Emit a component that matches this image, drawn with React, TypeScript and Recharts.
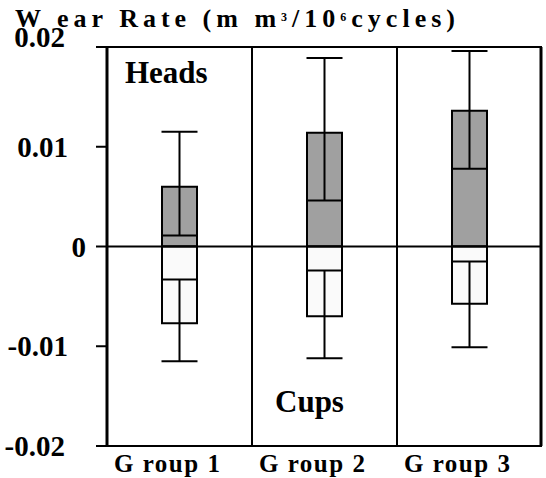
import React from 'react';
import { BarChart, Bar, XAxis, YAxis, ErrorBar, ReferenceLine, CartesianGrid } from 'recharts';

const groups = ['Group 1', 'Group 2', 'Group 3'];
const groupLabels = ['G roup 1', 'G roup 2', 'G roup 3'];
const headMeans = [0.006, 0.0114, 0.0136];
const headLow = [0.0011, 0.0046, 0.0078];
const headHigh = [0.0115, 0.0189, 0.0196];
const cupMeans = [-0.0077, -0.007, -0.00575];
const cupHigh = [-0.0033, -0.0024, -0.0015];
const cupLow = [-0.0115, -0.0112, -0.0101];
const yTicks = [-0.02, -0.01, 0, 0.01, 0.02];
const yTickLabels = ['-0.02', '-0.01', '0', '0.01', '0.02'];

const data = groups.map((g, i) => ({
  group: g,
  heads: headMeans[i],
  headsErr: [headMeans[i] - headLow[i], headHigh[i] - headMeans[i]],
  cups: cupMeans[i],
  cupsErr: [cupMeans[i] - cupLow[i], cupHigh[i] - cupMeans[i]],
}));

const FONT = "'Liberation Serif', 'Times New Roman', serif";

const YTick = (props: any) => {
  const { y, payload } = props;
  const v = payload.value;
  const idx = yTicks.indexOf(v);
  const label = idx >= 0 ? yTickLabels[idx] : String(v);
  let x = 68;
  let dy = 10;
  if (v === 0) x = 86;
  if (Math.abs(v) === 0.02) x = 65;
  if (v === 0.02) dy = 0;
  return (
    <text x={x} y={y} dy={dy} textAnchor="end" fontFamily={FONT} fontWeight="bold" fontSize={29} fill="#000">
      {label}
    </text>
  );
};

const XTick = (props: any) => {
  const { x, payload, index } = props;
  const half = 145 / 2;
  return (
    <text x={x - half + 7} y={472} textAnchor="start" fontFamily={FONT} fontWeight="bold" fontSize={25} letterSpacing={1.5} fill="#000">
      {groupLabels[index] ?? payload.value}
    </text>
  );
};

const dividers = ({ offset }: any) => [
  offset.left + offset.width / 3,
  offset.left + (2 * offset.width) / 3,
];
const rightEdge = ({ offset }: any) => [offset.left + offset.width - 1];

export default function App() {
  return (
    <div style={{ position: 'absolute', left: 0, top: 0, width: 546, height: 478, background: '#fff' }}>
      <BarChart
        width={546}
        height={478}
        data={data}
        stackOffset="sign"
        margin={{ top: 47, right: 4, bottom: 2, left: 0 }}
      >
        <CartesianGrid horizontal={false} verticalCoordinatesGenerator={dividers} stroke="#000" strokeWidth={2} strokeDasharray="" />
        <CartesianGrid horizontal={false} verticalCoordinatesGenerator={rightEdge} stroke="#000" strokeWidth={3} strokeDasharray="" />
        <XAxis
          dataKey="group"
          height={30}
          axisLine={{ stroke: '#000', strokeWidth: 2 }}
          tickLine={false}
          tick={<XTick />}
          interval={0}
        />
        <YAxis
          width={107}
          domain={[-0.02, 0.02]}
          ticks={yTicks}
          allowDataOverflow
          axisLine={{ stroke: '#000', strokeWidth: 3 }}
          tickLine={{ stroke: '#000', strokeWidth: 2 }}
          tickSize={11}
          tick={<YTick />}
          interval={0}
        />
        <ReferenceLine y={0.02} stroke="#000" strokeWidth={2} />
        <Bar dataKey="heads" stackId="a" barSize={35} fill="#a0a0a0" stroke="#000" strokeWidth={2} isAnimationActive={false}>
          <ErrorBar dataKey="headsErr" width={18} stroke="#000" strokeWidth={2} direction="y" />
        </Bar>
        <Bar dataKey="cups" stackId="a" barSize={35} fill="#fafafa" stroke="#000" strokeWidth={2} isAnimationActive={false}>
          <ErrorBar dataKey="cupsErr" width={18} stroke="#000" strokeWidth={2} direction="y" />
        </Bar>
        <ReferenceLine y={0} stroke="#000" strokeWidth={2} />
      </BarChart>
      <svg width={546} height={478} style={{ position: 'absolute', left: 0, top: 0, pointerEvents: 'none' }}>
        <text x={15} y={27} fontFamily={FONT} fontWeight="bold" fontSize={26} letterSpacing={5} fill="#000">
          W ear Rate (m m
          <tspan fontSize={12} dy={-6}>3</tspan>
          <tspan dy={6}>/10</tspan>
          <tspan fontSize={12} dy={-6}>6</tspan>
          <tspan dy={6}>cycles)</tspan>
        </text>
        <text x={125} y={83} fontFamily={FONT} fontWeight="bold" fontSize={31} fill="#000">Heads</text>
        <text x={275} y={412} fontFamily={FONT} fontWeight="bold" fontSize={31} fill="#000">Cups</text>
      </svg>
    </div>
  );
}
